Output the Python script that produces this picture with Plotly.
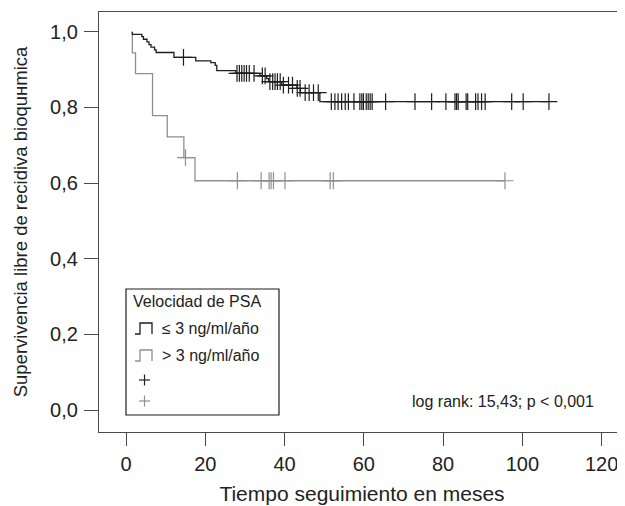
import plotly.graph_objects as go

# ---------------- data ----------------
# Group <= 3 ng/ml/año (black): step times and survival after each step
low_times = [1.6, 1.6, 4.0, 4.4, 5.3, 5.8, 6.3, 7.2, 7.6, 12.1, 17.6, 21.4, 22.5, 22.9,
             27.7, 33.8, 35.5, 36.0, 39.3, 43.1, 44.0, 48.9]
low_surv = [1.0, 0.993, 0.987, 0.980, 0.973, 0.966, 0.959, 0.952, 0.945, 0.932, 0.923, 0.918, 0.911, 0.897,
            0.890, 0.883, 0.876, 0.868, 0.859, 0.850, 0.839, 0.815]
low_censor = [14.5, 28.0, 28.6, 29.2, 29.8, 30.4, 31.1, 32.3, 34.4, 35.1, 36.3, 37.0, 37.6, 38.2,
              38.9, 39.7, 41.0, 42.0, 43.2, 43.9, 45.2, 46.2, 47.3, 48.5,
              51.8, 52.7, 53.5, 54.4, 55.3, 56.1, 57.5, 59.0, 59.5, 59.9, 60.6, 61.1, 61.6, 62.1,
              65.5, 72.9, 77.1, 80.7, 83.0, 83.4, 83.8, 85.8, 86.2, 88.2, 88.8, 89.7, 90.6,
              97.3, 100.2, 106.7]

# Group > 3 ng/ml/año (gray)
high_times = [1.6, 1.6, 2.4, 6.7, 10.4, 14.6, 17.4]
high_surv = [1.0, 0.944, 0.889, 0.778, 0.722, 0.667, 0.606]
high_censor = [15.0, 28.1, 34.1, 36.1, 36.6, 37.2, 40.1, 51.5, 52.3, 95.6]

x_ticks = [0, 20, 40, 60, 80, 100, 120]
y_ticks = [0.0, 0.2, 0.4, 0.6, 0.8, 1.0]
y_labels = ["0,0", "0,2", "0,4", "0,6", "0,8", "1,0"]

legend_title = "Velocidad de PSA"
legend_labels = ["≤ 3 ng/ml/año", "> 3 ng/ml/año"]
stat_text = "log rank: 15,43; p < 0,001"
x_title = "Tiempo seguimiento en meses"
y_title = "Supervivencia libre de recidiva bioquнmica"

BLACK = "#1e1e1e"
GRAY = "#8f8f8f"
AXIS = "#4a4a4a"
TXT = "#222222"
FONT = "Liberation Sans, Arial, sans-serif"


def step_value(times, surv, t):
    val = surv[0]
    for ti, si in zip(times, surv):
        if ti <= t:
            val = si
    return val


def curve(times, surv, censor):
    end = max(max(censor), times[-1])
    return list(times) + [end], list(surv) + [surv[-1]]


fig = go.Figure()
for times, surv, cens, col in [(high_times, high_surv, high_censor, GRAY),
                               (low_times, low_surv, low_censor, BLACK)]:
    xs, ys = curve(times, surv, cens)
    fig.add_trace(go.Scatter(x=xs, y=ys, mode="lines", line=dict(color=col, width=1.3, shape="hv"),
                             showlegend=False, hoverinfo="skip"))
    fig.add_trace(go.Scatter(x=cens, y=[step_value(times, surv, c) for c in cens], mode="markers",
                             marker=dict(symbol="cross-thin", size=12, line=dict(color=col, width=1.2)),
                             showlegend=False, hoverinfo="skip"))

# page body has an 8px margin; the figure is placed accordingly
OFF = 8
W, H = 625 - OFF, 506 - OFF
# plot area in window pixels
L, R, T, B = 99, 625, 12, 432


def px(x):
    return (x - L) / (R - L)


def py(y):
    return (B - y) / (B - T)


shapes = []
annotations = []
shapes.append(dict(type="rect", xref="paper", yref="paper", x0=px(126), x1=px(279), y0=py(415), y1=py(289),
                   line=dict(color=BLACK, width=1.2), fillcolor="white", layer="above"))
annotations.append(dict(xref="paper", yref="paper", x=px(131), y=py(301), text=legend_title, showarrow=False,
                        xanchor="left", yanchor="middle", font=dict(size=16, color=TXT, family=FONT)))
for i, (lab, col) in enumerate(zip(legend_labels, [BLACK, GRAY])):
    yc = [328, 355][i]
    path = "M {a},{b} L {c},{b} L {c},{d} L {e},{d} L {e},{b}".format(
        a=px(135), b=py(yc + 6), c=px(140), d=py(yc - 5), e=px(152))
    shapes.append(dict(type="path", xref="paper", yref="paper", path=path, line=dict(color=col, width=1.3),
                       layer="above"))
    annotations.append(dict(xref="paper", yref="paper", x=px(160), y=py(yc), text=lab, showarrow=False,
                            xanchor="left", yanchor="middle", font=dict(size=16, color=TXT, family=FONT)))
for yc, col in [(380, BLACK), (401, GRAY)]:
    shapes.append(dict(type="line", xref="paper", yref="paper", x0=px(139), x1=px(150), y0=py(yc), y1=py(yc),
                       line=dict(color=col, width=1.2), layer="above"))
    shapes.append(dict(type="line", xref="paper", yref="paper", x0=px(144.5), x1=px(144.5), y0=py(yc - 5.5),
                       y1=py(yc + 5.5), line=dict(color=col, width=1.2), layer="above"))

annotations.append(dict(xref="paper", yref="paper", x=px(503), y=py(401), text=stat_text, showarrow=False,
                        xanchor="center", yanchor="middle", font=dict(size=16, color=TXT, family=FONT)))

x0_px, x_scale = 126, 3.964
y0_px, y_scale = 410, 378.3
xr = [(L - x0_px) / x_scale, (R - x0_px) / x_scale]
yr = [(y0_px - B) / y_scale, (y0_px - T) / y_scale]

fig.update_layout(
    width=W, height=H, margin=dict(l=L - OFF, r=625 - R, t=T - OFF, b=506 - B, pad=0),
    paper_bgcolor="white", plot_bgcolor="white",
    font=dict(family=FONT, color=TXT),
    shapes=shapes, annotations=annotations,
    xaxis=dict(range=xr, tickvals=x_ticks, ticks="outside", ticklen=13, tickwidth=1.2, tickcolor=AXIS,
               showline=True, mirror=True, linecolor=AXIS, linewidth=1.3, showgrid=False, zeroline=False,
               tickfont=dict(size=20, family=FONT, color=TXT), ticklabelstandoff=1,
               title=dict(text=x_title, font=dict(size=21, family=FONT, color=TXT), standoff=12)),
    yaxis=dict(range=yr, tickvals=y_ticks, ticktext=y_labels, ticks="outside", ticklen=14, tickwidth=1.2,
               tickcolor=AXIS, showline=True, linecolor=AXIS, linewidth=1.3, showgrid=False, zeroline=False,
               tickfont=dict(size=20, family=FONT, color=TXT), ticklabelstandoff=2,
               title=dict(text=y_title, font=dict(size=18.5, family=FONT, color=TXT), standoff=17)),
)

fig.write_html("out.html")
